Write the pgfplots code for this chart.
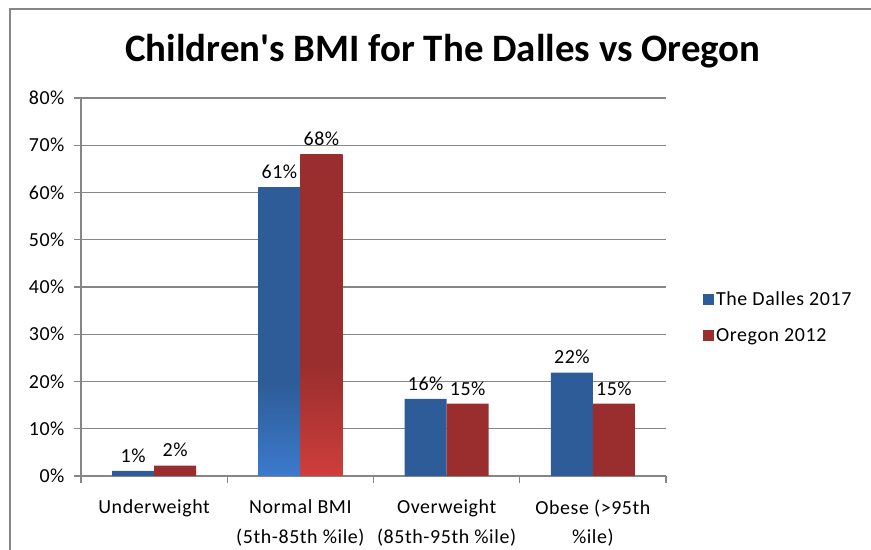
\documentclass[border=0pt]{standalone}
\usepackage{fontspec}
\setmainfont{Carlito}
\newfontfamily\lblfont[LetterSpace=3]{Carlito}
\usepackage{pgfplots}
\pgfplotsset{compat=1.18}
\definecolor{dblue}{RGB}{46,92,152}
\definecolor{dred}{RGB}{154,46,46}
\definecolor{lblue}{RGB}{60,122,204}
\definecolor{lred}{RGB}{206,62,60}
\definecolor{gridc}{RGB}{134,134,134}
\pgfdeclareverticalshading{blueshade}{100bp}{color(0bp)=(lblue); color(25bp)=(lblue); color(41bp)=(dblue); color(100bp)=(dblue)}
\pgfdeclareverticalshading{redshade}{100bp}{color(0bp)=(lred); color(25bp)=(lred); color(42bp)=(dred); color(100bp)=(dred)}
\begin{document}
\begin{tikzpicture}
\useasboundingbox (0bp,0bp) rectangle (871bp,550bp);
\draw[gridc, line width=1.3bp] (10bp,-5bp) -- (10bp,541bp) -- (880bp,541bp);
\node[font=\fontsize{39}{42}\selectfont\bfseries] at (443bp,499bp) {Children\textquotesingle s BMI for The Dalles vs Oregon};
\begin{axis}[
  at={(81bp,74bp)}, anchor=south west, scale only axis,
  width=585bp, height=378bp,
  xmin=-0.5, xmax=3.5, ymin=0, ymax=80,
  axis lines*=left,
  axis line style={gridc, line width=1.2bp},
  ytick={0,10,...,80},
  yticklabel={\pgfmathprintnumber{\tick}\%},
  xtick={-0.5,0.5,1.5,2.5,3.5},
  xticklabels={Underweight,{Normal BMI\\(5th-85th \%ile)},{Overweight\\(85th-95th \%ile)},{Obese (>95th\\\%ile)}},
  x tick label as interval,
  x tick label style={align=center, font=\lblfont\fontsize{20}{30}\selectfont, yshift=-13bp},
  y tick label style={font=\lblfont\fontsize{20}{22}\selectfont, xshift=-6bp},
  /pgf/number format/assume math mode=true,
  tick align=outside,
  major tick length=7bp,
  tick style={gridc, line width=1.2bp},
  ymajorgrids,
  grid style={gridc, line width=1.2bp},
  bar width=0.287,
  nodes near coords={\pgfmathprintnumber[fixed,precision=0]{\pgfplotspointmeta}\%},
  every node near coord/.append style={font=\lblfont\fontsize{20}{22}\selectfont, black, yshift=5bp},
  legend style={at={(1.058,0.42)}, anchor=west, draw=none, fill=none,
    font=\lblfont\fontsize{20}{22}\selectfont, row sep=17bp},
  legend cell align=left,
  legend image code/.code={\fill[#1] (0bp,-5.5bp) rectangle (11bp,5.5bp);},
]
\addplot[ybar, fill=dblue, draw=none, bar shift=-0.1435,
  every node near coord/.append style={xshift=-21bp}] coordinates {(0,1.1) (1,61.1) (2,16.3) (3,21.9)};
\addlegendentry{The Dalles 2017}
\addplot[ybar, fill=dred, draw=none, bar shift=0.1435,
  every node near coord/.append style={xshift=21bp}] coordinates {(0,2.2) (1,68.1) (2,15.3) (3,15.3)};
\addlegendentry{Oregon 2012}
\addplot[ybar, draw=none, shading=blueshade, bar shift=-0.1435, nodes near coords={}, forget plot] coordinates {(1,61.1)};
\addplot[ybar, draw=none, shading=redshade, bar shift=0.1435, nodes near coords={}, forget plot] coordinates {(1,68.1)};
\end{axis}
\end{tikzpicture}
\end{document}
